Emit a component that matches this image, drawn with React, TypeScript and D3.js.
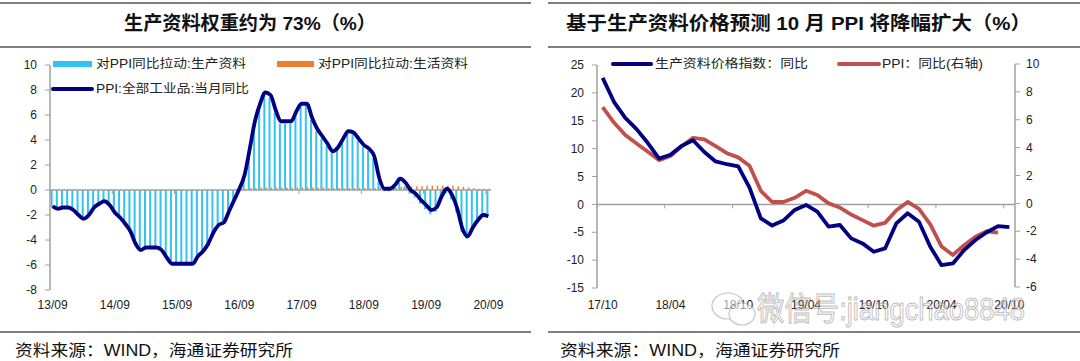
import React from "react";
import * as d3 from "d3";

// left chart: monthly 2013-09 .. 2020-09
const leftMonths = d3.timeMonth
  .range(new Date(2013, 8, 1), new Date(2020, 9, 1))
  .map(d3.timeFormat("%y/%m"));
const leftTickLabels = ["13/09", "14/09", "15/09", "16/09", "17/09", "18/09", "19/09", "20/09"];
const leftYTicks = [10, 8, 6, 4, 2, 0, -2, -4, -6, -8];

// PPI:全部工业品:当月同比
const ppiMonthly = [
  -1.3, -1.5, -1.4, -1.4,
  -1.6, -2.0, -2.3, -2.0, -1.4, -1.1, -0.9, -1.2, -1.8, -2.2, -2.7, -3.3,
  -4.3, -4.8, -4.6, -4.6, -4.6, -4.8, -5.4, -5.9, -5.9, -5.9, -5.9, -5.9,
  -5.3, -4.9, -4.3, -3.4, -2.8, -2.6, -1.7, -0.8, 0.1, 1.2, 3.3, 5.5,
  6.9, 7.8, 7.6, 6.4, 5.5, 5.5, 5.5, 6.3, 6.9, 6.9, 5.8, 4.9,
  4.3, 3.7, 3.1, 3.4, 4.1, 4.7, 4.6, 4.1, 3.6, 3.3, 2.7, 0.9,
  0.1, 0.1, 0.4, 0.9, 0.6, 0.0, -0.3, -0.8, -1.2, -1.6, -1.4, -0.5,
  0.1, -0.4, -1.5, -3.1, -3.7, -3.0, -2.4, -2.0, -2.1,
];

// 对PPI同比拉动:生产资料
const prodPull = [
  -1.35, -1.55, -1.45, -1.45,
  -1.65, -2.05, -2.35, -2.05, -1.45, -1.15, -0.95, -1.25, -1.85, -2.25, -2.75, -3.35,
  -4.25, -4.75, -4.55, -4.55, -4.55, -4.75, -5.35, -5.85, -5.85, -5.85, -5.85, -5.85,
  -5.25, -4.85, -4.27, -3.4, -2.8, -2.6, -1.7, -0.82, 0.05, 1.1, 3.15, 5.35,
  6.7, 7.6, 7.4, 6.2, 5.3, 5.3, 5.3, 6.1, 6.7, 6.7, 5.6, 4.7,
  4.1, 3.55, 2.95, 3.25, 3.95, 4.55, 4.45, 3.95, 3.45, 3.15, 2.55, 0.7,
  -0.1, -0.1, 0.2, 0.65, 0.3, -0.3, -0.6, -1.1, -1.55, -1.95, -1.75, -0.85,
  -0.25, -0.75, -1.8, -3.35, -3.9, -3.15, -2.5, -2.0, -1.9,
];

// 对PPI同比拉动:生活资料
const consPull = [
  0.05, 0.05, 0.05, 0.05,
  0.05, 0.05, 0.05, 0.05, 0.05, 0.05, 0.05, 0.05, 0.05, 0.05, 0.05, 0.05,
  -0.05, -0.05, -0.05, -0.05, -0.05, -0.05, -0.05, -0.05, -0.05, -0.05, -0.05, -0.05,
  -0.05, -0.05, -0.03, 0, 0, 0, 0, 0.02, 0.05, 0.1, 0.15, 0.15,
  0.2, 0.2, 0.2, 0.2, 0.2, 0.2, 0.2, 0.2, 0.2, 0.2, 0.2, 0.2,
  0.2, 0.15, 0.15, 0.15, 0.15, 0.15, 0.15, 0.15, 0.15, 0.15, 0.15, 0.2,
  0.2, 0.2, 0.2, 0.25, 0.3, 0.3, 0.3, 0.3, 0.35, 0.35, 0.35, 0.35,
  0.35, 0.35, 0.3, 0.25, 0.2, 0.15, 0.1, 0.1, 0.1,
];

// right chart: monthly 2017-10 .. 2020-10
const rightMonths = d3.timeMonth
  .range(new Date(2017, 9, 1), new Date(2020, 10, 1))
  .map(d3.timeFormat("%y/%m"));
const rightTickLabels = ["17/10", "18/04", "18/10", "19/04", "19/10", "20/04", "20/10"];
const rightYTicks = [25, 20, 15, 10, 5, 0, -5, -10, -15];
const rightY2Ticks = [10, 8, 6, 4, 2, 0, -2, -4, -6];

// 生产资料价格指数:同比 (left axis)
const prodPriceIdx = [
  22.7, 18.4, 15.5, 13.5, 11.0, 8.2, 8.9, 10.5, 11.5, 9.4, 7.7, 7.2,
  6.8, 3.0, -2.5, -3.8, -2.9, -1.0, -0.1, -1.3, -4.0, -3.7, -6.1, -7.0,
  -8.5, -7.9, -3.4, -1.6, -3.1, -7.6, -10.9, -10.6, -8.2, -6.4, -5.0, -3.9,
  -4.1,
];
// PPI:同比 (right axis)
const ppiRight = [
  6.9, 5.8, 4.9, 4.3, 3.7, 3.1, 3.4, 4.1, 4.7, 4.6, 4.1, 3.6,
  3.3, 2.7, 0.9, 0.1, 0.1, 0.4, 0.9, 0.6, 0.0, -0.3, -0.8, -1.2,
  -1.6, -1.4, -0.5, 0.1, -0.4, -1.5, -3.1, -3.7, -3.0, -2.4, -2.0, -2.1,
];

const FONT = "'Liberation Sans', Arial, 'Noto Sans CJK SC', sans-serif";
const NAVY = "#000080";
const RED = "#c0504d";
const SKY = "#33c3f0";
const ORANGE = "#ed7d31";
const AXIS = "#a0a0a0";
const RULE = "#555";

export default function App() {
  // left scales
  const xL = d3.scaleBand().domain(leftMonths).range([50, 491]);
  const bwL = xL.bandwidth();
  const yL = d3.scaleLinear().domain([-8, 10]).range([290, 65]);
  const cxL = (i: number) => (xL(leftMonths[i]) as number) + bwL / 2;
  const ppiLine = d3
    .line<number>()
    .x((_, i) => cxL(i))
    .y((d) => yL(d))
    .curve(d3.curveMonotoneX)(ppiMonthly) as string;

  // right scales
  const xR = d3.scaleBand().domain(rightMonths).range([597, 1015]);
  const bwR = xR.bandwidth();
  const yR = d3.scaleLinear().domain([-15, 25]).range([288, 65]);
  const yR2 = d3.scaleLinear().domain([-6, 10]).range([287, 64]);
  const cxR = (i: number) => (xR(rightMonths[i]) as number) + bwR / 2;
  const idxLine = d3
    .line<number>()
    .x((_, i) => cxR(i))
    .y((d) => yR(d))(prodPriceIdx) as string;
  const ppiRLine = d3
    .line<number>()
    .x((_, i) => cxR(i))
    .y((d) => yR2(d))(ppiRight) as string;

  return (
    <svg
      width={1080}
      height={361}
      style={{ position: "absolute", left: 0, top: 0, background: "#fff" }}
      fontFamily={FONT}
    >
      <rect width={1080} height={361} fill="#fff" />

      {/* header / footer rules */}
      <line x1={0} x2={531} y1={3} y2={3} stroke={RULE} strokeWidth={1.5} />
      <line x1={0} x2={531} y1={47} y2={47} stroke={RULE} strokeWidth={1.5} />
      <line x1={548} x2={1080} y1={3} y2={3} stroke={RULE} strokeWidth={1.5} />
      <line x1={548} x2={1080} y1={47} y2={47} stroke={RULE} strokeWidth={1.5} />
      <line x1={0} x2={531} y1={332} y2={332} stroke={RULE} strokeWidth={1.5} />
      <line x1={548} x2={1080} y1={332} y2={332} stroke={RULE} strokeWidth={1.5} />

      <text x={124} y={30} fontSize={19} fontWeight="bold" fill="#111" textLength={252} lengthAdjust="spacingAndGlyphs">
        生产资料权重约为 73%（%）
      </text>
      <text x={566} y={30} fontSize={19} fontWeight="bold" fill="#111" textLength={465} lengthAdjust="spacingAndGlyphs">
        基于生产资料价格预测 10 月 PPI 将降幅扩大（%）
      </text>

      <text x={15} y={356} fontSize={16} fill="#111" textLength={278} lengthAdjust="spacingAndGlyphs">
        资料来源：WIND，海通证券研究所
      </text>
      <text x={560} y={356} fontSize={16} fill="#111" textLength={280} lengthAdjust="spacingAndGlyphs">
        资料来源：WIND，海通证券研究所
      </text>

      {/* ---------- left chart ---------- */}
      <g>
        {prodPull.map((v, i) => (
          <rect
            key={"p" + i}
            x={(xL(leftMonths[i]) as number) + 0.6}
            width={2}
            y={Math.min(yL(v), yL(0))}
            height={Math.abs(yL(v) - yL(0))}
            fill={SKY}
          />
        ))}
        {consPull.map((v, i) => (
          <rect
            key={"c" + i}
            x={(xL(leftMonths[i]) as number) + 2.8}
            width={1.5}
            y={Math.min(yL(v), yL(0))}
            height={Math.abs(yL(v) - yL(0))}
            fill={ORANGE}
          />
        ))}
        <line x1={50} x2={491} y1={yL(0)} y2={yL(0)} stroke={AXIS} strokeWidth={1.5} />
        {leftTickLabels.map((t) => (
          <line
            key={t}
            x1={xL(t) as number}
            x2={xL(t) as number}
            y1={yL(0)}
            y2={yL(0) + 4}
            stroke={AXIS}
          />
        ))}
        <line x1={50} x2={50} y1={yL(10)} y2={yL(-8)} stroke={AXIS} strokeWidth={1.5} />
        {leftYTicks.map((t) => (
          <g key={t}>
            <line x1={45} x2={50} y1={yL(t)} y2={yL(t)} stroke={AXIS} />
            <text x={37} y={yL(t)} dy="0.35em" textAnchor="end" fontSize={12} fill="#222">
              {t}
            </text>
          </g>
        ))}
        {leftTickLabels.map((t) => (
          <text
            key={"l" + t}
            x={(xL(t) as number) + bwL / 2}
            y={309}
            textAnchor="middle"
            fontSize={12}
            fill="#222"
          >
            {t}
          </text>
        ))}
        <path d={ppiLine} fill="none" stroke={NAVY} strokeWidth={3.8} strokeLinejoin="round" />

        {/* legend */}
        <rect x={53} y={61} width={39} height={6} fill={SKY} />
        <text x={96} y={64} dy="0.35em" fontSize={12} fill="#222" textLength={150} lengthAdjust="spacingAndGlyphs">
          对PPI同比拉动:生产资料
        </text>
        <rect x={277} y={61} width={37} height={6} fill={ORANGE} />
        <text x={318} y={64} dy="0.35em" fontSize={12} fill="#222" textLength={150} lengthAdjust="spacingAndGlyphs">
          对PPI同比拉动:生活资料
        </text>
        <line x1={53} x2={92} y1={89} y2={89} stroke={NAVY} strokeWidth={4} strokeLinecap="round" />
        <text x={96} y={89} dy="0.35em" fontSize={12} fill="#222" textLength={153} lengthAdjust="spacingAndGlyphs">
          PPI:全部工业品:当月同比
        </text>
      </g>

      {/* ---------- right chart ---------- */}
      <g>
        <line x1={597} x2={1015} y1={yR(0)} y2={yR(0)} stroke={AXIS} strokeWidth={1.5} />
        {rightTickLabels.map((t) => (
          <line
            key={t}
            x1={xR(t) as number}
            x2={xR(t) as number}
            y1={yR(0)}
            y2={yR(0) + 4}
            stroke={AXIS}
          />
        ))}
        <line x1={597} x2={597} y1={yR(25)} y2={yR(-15)} stroke={AXIS} strokeWidth={1.5} />
        {rightYTicks.map((t) => (
          <g key={t}>
            <line x1={592} x2={597} y1={yR(t)} y2={yR(t)} stroke={AXIS} />
            <text x={584} y={yR(t)} dy="0.35em" textAnchor="end" fontSize={12} fill="#222">
              {t}
            </text>
          </g>
        ))}
        <line x1={1015} x2={1015} y1={yR2(10)} y2={yR2(-6)} stroke={AXIS} strokeWidth={1.5} />
        {rightY2Ticks.map((t) => (
          <g key={t}>
            <line x1={1015} x2={1020} y1={yR2(t)} y2={yR2(t)} stroke={AXIS} />
            <text x={1026} y={yR2(t)} dy="0.35em" fontSize={12} fill="#222">
              {t}
            </text>
          </g>
        ))}
        {rightTickLabels.map((t) => (
          <text
            key={"l" + t}
            x={(xR(t) as number) + bwR / 2}
            y={309}
            textAnchor="middle"
            fontSize={12}
            fill="#222"
          >
            {t}
          </text>
        ))}
        <path d={ppiRLine} fill="none" stroke={RED} strokeWidth={3.8} strokeLinejoin="round" />
        <path d={idxLine} fill="none" stroke={NAVY} strokeWidth={3.8} strokeLinejoin="round" />

        {/* legend */}
        <line x1={613} x2={651} y1={64} y2={64} stroke={NAVY} strokeWidth={4} strokeLinecap="round" />
        <text x={655} y={64} dy="0.35em" fontSize={12} fill="#222" textLength={153} lengthAdjust="spacingAndGlyphs">
          生产资料价格指数：同比
        </text>
        <line x1={839} x2={879} y1={64} y2={64} stroke={RED} strokeWidth={4} strokeLinecap="round" />
        <text x={882} y={64} dy="0.35em" fontSize={12} fill="#222" textLength={101} lengthAdjust="spacingAndGlyphs">
          PPI：同比(右轴)
        </text>

        {/* watermark */}
        <g opacity={0.55}>
          <ellipse cx={728} cy={306} rx={16} ry={13} fill="#fff" stroke="#999" strokeWidth={1.2} />
          <ellipse cx={742} cy={314} rx={13} ry={11} fill="#fff" stroke="#999" strokeWidth={1.2} />
          <text
            x={757}
            y={320}
            fontSize={32}
            fill="#fff"
            stroke="#888"
            strokeWidth={1}
            textLength={268}
            lengthAdjust="spacingAndGlyphs"
          >
            微信号:jiangchao8848
          </text>
        </g>
      </g>
    </svg>
  );
}
